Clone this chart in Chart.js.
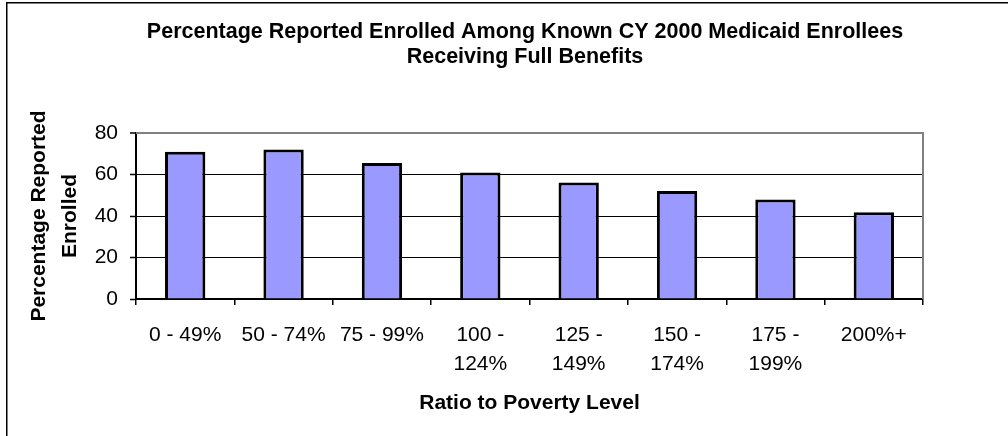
<!DOCTYPE html>
<html lang="en">

<head>
    <meta charset="UTF-8">
    <title>Medicaid Enrollees</title>
    <style>
        html, body { margin: 0; padding: 0; background: #fff; }
        #wrap { width: 1008px; height: 436px; position: relative; }
    </style>
</head>

<body>
    <div id="wrap"><canvas id="enrolled-chart"></canvas></div>
</body>

<script src="https://cdn.jsdelivr.net/npm/chart.js@4.4.1/dist/chart.umd.min.js"></script>

<script type="text/javascript" charset="utf-8">
    // Data
    var categories = ['0 - 49%', '50 - 74%', '75 - 99%', ['100 -', '124%'], ['125 -', '149%'],
        ['150 -', '174%'], ['175 -', '199%'], '200%+'];
    var enrolled = [71, 72, 65.5, 61, 56.2, 52, 48, 41.8];
    var yTicks = [0, 20, 40, 60, 80];
    var titleLines = ['Percentage Reported Enrolled Among Known CY 2000 Medicaid Enrollees',
        'Receiving Full Benefits'];
    var yTitle = ['Percentage Reported', 'Enrolled'];
    var xTitle = 'Ratio to Poverty Level';

    var FONT = '"Liberation Sans", Arial, sans-serif';
    Chart.defaults.font.family = FONT;
    Chart.defaults.color = '#000';

    // Frame, chart title and grey plot border
    var decor = {
        id: 'decor',
        beforeDraw: function (chart) {
            var ctx = chart.ctx;
            ctx.save();
            ctx.fillStyle = '#fff';
            ctx.fillRect(0, 0, chart.width, chart.height);
            ctx.strokeStyle = '#000';
            ctx.lineWidth = 1.5;
            ctx.beginPath();
            ctx.moveTo(6.75, chart.height);
            ctx.lineTo(6.75, 2.75);
            ctx.lineTo(chart.width, 2.75);
            ctx.stroke();
            ctx.restore();
        },
        afterDraw: function (chart) {
            var ctx = chart.ctx;
            var area = chart.chartArea;
            ctx.save();
            ctx.strokeStyle = '#808080';
            ctx.lineWidth = 2;
            ctx.beginPath();
            ctx.moveTo(area.left, area.top);
            ctx.lineTo(area.right, area.top);
            ctx.lineTo(area.right, area.bottom);
            ctx.stroke();
            ctx.fillStyle = '#000';
            ctx.font = 'bold 21.5px ' + FONT;
            ctx.textAlign = 'center';
            ctx.textBaseline = 'middle';
            titleLines.forEach(function (line, i) {
                ctx.fillText(line, 525, 32 + i * 25);
            });
            ctx.restore();
        }
    };

    var chart = new Chart(document.getElementById('enrolled-chart'), {
        type: 'bar',
        data: {
            labels: categories,
            datasets: [{
                label: 'Percentage Reported Enrolled',
                data: enrolled,
                backgroundColor: '#9999FF',
                borderColor: '#000',
                borderWidth: 3,
                categoryPercentage: 1,
                barPercentage: 0.41
            }]
        },
        plugins: [decor],
        options: {
            responsive: true,
            maintainAspectRatio: false,
            animation: false,
            layout: { padding: { top: 133, right: 85, bottom: 0, left: 0 } },
            plugins: {
                legend: { display: false },
                title: { display: false },
                tooltip: { enabled: false }
            },
            scales: {
                x: {
                    afterFit: function (scale) { scale.height = 137; },
                    grid: {
                        offset: true,
                        drawOnChartArea: false,
                        tickLength: 6,
                        color: '#000',
                        lineWidth: 1.5
                    },
                    border: { color: '#000', width: 2 },
                    ticks: {
                        autoSkip: false,
                        maxRotation: 0,
                        padding: 16,
                        font: { size: 21, lineHeight: 29 / 21 }
                    },
                    title: {
                        display: true,
                        text: xTitle,
                        font: { size: 21, weight: 'bold', lineHeight: 1.2 },
                        padding: { top: 0, bottom: 20 }
                    }
                },
                y: {
                    min: yTicks[0],
                    max: yTicks[yTicks.length - 1],
                    afterFit: function (scale) { scale.width = 136; },
                    afterBuildTicks: function (scale) {
                        scale.ticks = yTicks.map(function (v) { return { value: v }; });
                    },
                    grid: {
                        tickLength: 6,
                        tickColor: '#000',
                        tickWidth: 1.5,
                        color: function (c) { return c.tick && c.tick.value === 80 ? '#808080' : '#000'; },
                        lineWidth: function (c) { return c.tick && c.tick.value === 80 ? 2 : 1; }
                    },
                    border: { color: '#000', width: 2 },
                    ticks: {
                        padding: 12,
                        font: { size: 21 }
                    },
                    title: {
                        display: true,
                        text: yTitle,
                        font: { size: 21, weight: 'bold', lineHeight: 31 / 21 },
                        padding: { top: 23.5, bottom: 0 }
                    }
                }
            }
        }
    });
</script>

</html>
